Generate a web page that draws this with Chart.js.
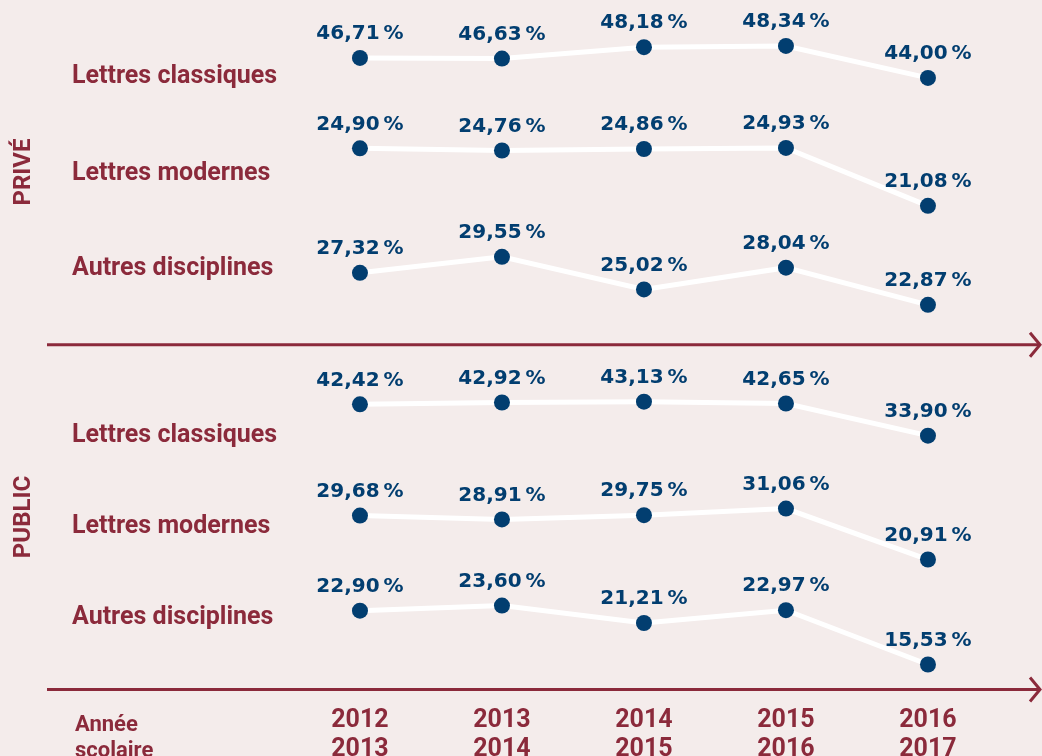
<!DOCTYPE html>
<html lang="fr">
<head>
<meta charset="utf-8">
<script src="https://cdn.jsdelivr.net/npm/chart.js@4"></script>
<style>
  html, body { margin: 0; padding: 0; background: #f4eceb; overflow: hidden; }
  #wrap { width: 1042px; height: 781px; }
</style>
</head>
<body>
<div id="wrap"><canvas id="chart"></canvas></div>
<script>
const schoolYears = [['2012', '2013'], ['2013', '2014'], ['2014', '2015'], ['2015', '2016'], ['2016', '2017']];
const sections = ['PRIVÉ', 'PUBLIC'];
const disciplines = ['Lettres classiques', 'Lettres modernes', 'Autres disciplines'];
const axisTitle = ['Année', 'scolaire'];

const priveClassiques = [46.71, 46.63, 48.18, 48.34, 44.00];
const priveModernes = [24.90, 24.76, 24.86, 24.93, 21.08];
const priveAutres = [27.32, 29.55, 25.02, 28.04, 22.87];
const publicClassiques = [42.42, 42.92, 43.13, 42.65, 33.90];
const publicModernes = [29.68, 28.91, 29.75, 31.06, 20.91];
const publicAutres = [22.90, 23.60, 21.21, 22.97, 15.53];

const red = '#8b2a3b';
const blue = '#023e70';

// one hidden y axis per row so each line sits in its own band
const rowAxes = [
    { min: -39.04, max: 54.58 },
    { min: -11.06, max: 34.76 },
    { min: -30.59, max: 65.24 },
    { min: -35.13, max: 152.37 },
    { min: -5.00, max: 132.45 },
    { min: 12.11, max: 106.50 }
];
const rowLabelY = [83, 180, 275, 442, 533, 624];
const sectionY = [172, 517];

const series = [priveClassiques, priveModernes, priveAutres, publicClassiques, publicModernes, publicAutres];

const fmt = v => v.toFixed(2).replace('.', ',') + '\u202f%';

const scales = {
    x: {
        type: 'linear',
        min: -2.204,
        max: 4.789,
        grid: { display: false, drawTicks: false },
        border: { display: false },
        afterBuildTicks: s => { s.ticks = schoolYears.map((_, i) => ({ value: i })); },
        ticks: {
            autoSkip: false,
            maxRotation: 0,
            padding: 17,
            color: red,
            font: { family: 'Roboto', weight: 'bold', size: 25, lineHeight: 1.15 },
            callback: v => schoolYears[v]
        }
    }
};
rowAxes.forEach((r, i) => {
    scales['y' + i] = { type: 'linear', display: false, min: r.min, max: r.max };
});

const decor = {
    id: 'decor',
    beforeDatasetsDraw(chart) {
        const { ctx, chartArea: a } = chart;
        const mid = a.top + (a.bottom - a.top) / 2;
        ctx.save();
        ctx.strokeStyle = red;
        ctx.lineWidth = 3;
        [mid, a.bottom].forEach(y => {
            ctx.beginPath();
            ctx.moveTo(a.left, y);
            ctx.lineTo(a.right, y);
            ctx.stroke();
            ctx.beginPath();
            ctx.moveTo(a.right - 10, y - 12);
            ctx.lineTo(a.right, y);
            ctx.lineTo(a.right - 10, y + 12);
            ctx.stroke();
        });
        ctx.restore();
    },
    afterDatasetsDraw(chart) {
        const ctx = chart.ctx;
        ctx.save();
        ctx.fillStyle = blue;
        ctx.font = 'bold 20px "DejaVu Sans"';
        ctx.textAlign = 'center';
        ctx.textBaseline = 'middle';
        chart.data.datasets.forEach((ds, i) => {
            chart.getDatasetMeta(i).data.forEach((pt, j) => {
                ctx.fillText(fmt(series[i][j]), pt.x, pt.y - 24);
            });
        });

        ctx.fillStyle = red;
        ctx.textAlign = 'left';
        ctx.textBaseline = 'alphabetic';
        ctx.font = 'bold 25px Roboto';
        rowLabelY.forEach((y, i) => {
            ctx.fillText(disciplines[i % 3], 72, y);
        });

        ctx.font = 'bold 22px Roboto';
        axisTitle.forEach((t, i) => ctx.fillText(t, 75, 731 + i * 26));

        ctx.font = 'bold 24px Roboto';
        ctx.textAlign = 'center';
        ctx.textBaseline = 'middle';
        sections.forEach((s, i) => {
            ctx.save();
            ctx.translate(23, sectionY[i]);
            ctx.rotate(-Math.PI / 2);
            ctx.fillText(s, 0, 1);
            ctx.restore();
        });
        ctx.restore();
    }
};

new Chart(document.getElementById('chart'), {
    type: 'line',
    data: {
        datasets: series.map((vals, i) => ({
            label: disciplines[i % 3],
            data: vals.map((v, j) => ({ x: j, y: v })),
            yAxisID: 'y' + i,
            borderColor: '#ffffff',
            borderWidth: 5,
            pointRadius: 8,
            pointBackgroundColor: blue,
            pointBorderWidth: 0,
            tension: 0,
            clip: false
        }))
    },
    options: {
        responsive: true,
        maintainAspectRatio: false,
        animation: false,
        layout: { autoPadding: false, padding: { left: 47, right: 2, top: 0, bottom: 0 } },
        scales: scales,
        plugins: { legend: { display: false }, tooltip: { enabled: false } }
    },
    plugins: [decor]
});
</script>
</body>
</html>
